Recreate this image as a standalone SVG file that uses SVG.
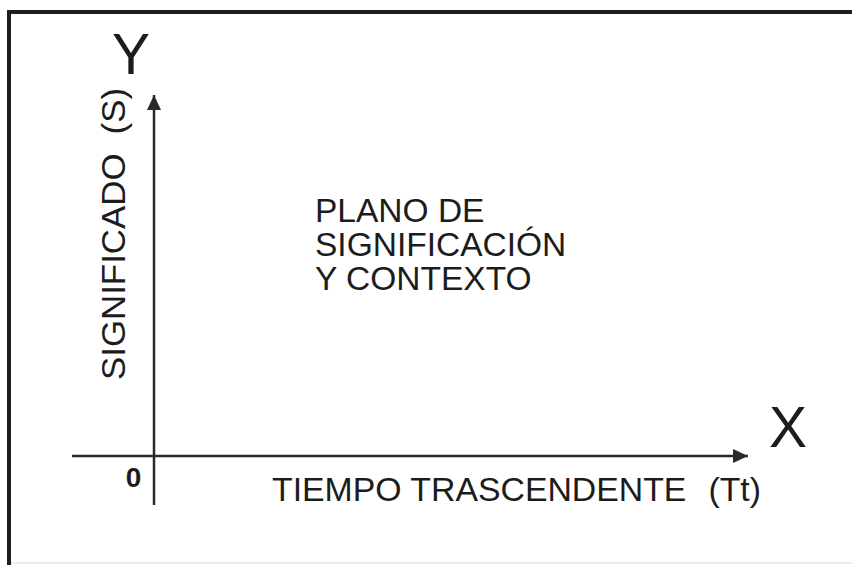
<svg xmlns="http://www.w3.org/2000/svg" width="852" height="565" viewBox="0 0 852 565">
  <style>
    .t { font-family: "Liberation Sans", Arial, sans-serif; fill: #1c1c1c; }
    .ax { stroke: #2a2a2a; stroke-width: 2.5; fill: none; }
  </style>
  <defs>
    <marker id="arr" viewBox="0 0 15 14" refX="15" refY="7" markerWidth="15" markerHeight="14" markerUnits="userSpaceOnUse" orient="auto">
      <path d="M0,0 L15,7 L0,14 Z" fill="#2a2a2a"/>
    </marker>
  </defs>
  <rect width="852" height="565" fill="#ffffff"/>
  <g id="frame">
    <path d="M9,565 L9,12 L852,12" fill="none" stroke="#1e1e1e" stroke-width="4"/>
    <line x1="11" y1="563" x2="852" y2="563" stroke="#e6e6e6" stroke-width="1.5"/>
  </g>
  <g id="connectors">
    <line id="y-axis" class="ax" x1="154" y1="505" x2="154" y2="95" marker-end="url(#arr)"/>
    <line id="x-axis" class="ax" x1="72" y1="456" x2="748" y2="456" marker-end="url(#arr)"/>
  </g>
  <g id="label-y">
    <text class="t" x="131" y="74" font-size="57" text-anchor="middle">Y</text>
  </g>
  <g id="label-x">
    <text class="t" x="788" y="447" font-size="57" text-anchor="middle">X</text>
  </g>
  <g id="label-origin">
    <text class="t" x="133.5" y="487" font-size="28" font-weight="bold" text-anchor="middle">0</text>
  </g>
  <g id="label-s">
    <text class="t" transform="translate(125,380) rotate(-90)" font-size="33" textLength="292" lengthAdjust="spacingAndGlyphs">SIGNIFICADO<tspan dx="18">(S)</tspan></text>
  </g>
  <g id="label-tt">
    <text class="t" x="272" y="501" font-size="33.8">TIEMPO TRASCENDENTE</text>
    <text class="t" x="761" y="501" font-size="33.8" text-anchor="end">(Tt)</text>
  </g>
  <g id="plane">
    <text class="t" x="315" y="222" font-size="33.5">PLANO DE</text>
    <text class="t" x="315" y="256" font-size="33.5">SIGNIFICACIÓN</text>
    <text class="t" x="315" y="290" font-size="33.5">Y CONTEXTO</text>
  </g>
</svg>
